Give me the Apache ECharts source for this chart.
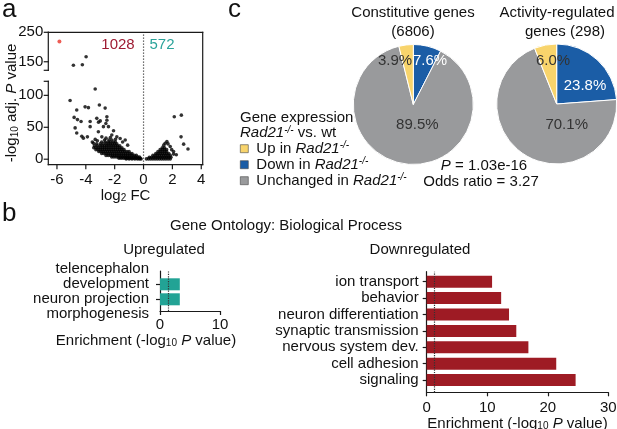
<!DOCTYPE html>
<html><head><meta charset="utf-8">
<script src="https://cdn.jsdelivr.net/npm/echarts@6/dist/echarts.min.js"></script>
<style>html,body{margin:0;padding:0;background:#fff}#c{width:617px;height:429px}</style>
</head><body><div id="c"></div><script>
const FONT = "'Liberation Sans', Arial, Helvetica, sans-serif";

// ---------- Panel a: volcano ----------
const volcanoXRange = [-6.6, 4.1];
const upperYRange = [121, 250];
const lowerYRange = [-8.6, 122];
const xTicks = [-6, -4, -2, 0, 2, 4];
const upperTickValues = [150, 250];
const lowerTickValues = [0, 50, 100];
const nDownGenes = '1028';
const nUpGenes = '572';
const volcanoRed = [[-5.83, 219]];
const volcanoHigh = [[-4.86, 138], [-4.24, 140], [-3.98, 167]];
const downScatter = [
  [-3.35, 110], [-5.09, 92], [-4.63, 77], [-4.05, 82], [-3.82, 80.7], [-3.06, 85], [-2.66, 80],
  [-4.81, 65.5], [-4.58, 62], [-4.74, 49], [-4.63, 41], [-4.28, 36], [-3.89, 35], [-3.7, 51],
  [-3.7, 59], [-3.24, 64], [-3.0, 60], [-2.54, 66.5], [-2.54, 61], [-2.78, 51], [-3.13, 43],
  [-2.89, 35], [-3.35, 31], [-2.2, 38], [-2.08, 44.5], [-1.85, 35], [-1.62, 32.5], [-1.27, 30],
  [-4.33, 59], [-4.17, 33], [-3.47, 25], [-2.43, 51], [-2.61, 56], [-3.12, 58], [-2.3, 34],
  [-1.95, 31], [-1.45, 27], [-2.6, 33], [-3.55, 27], [-1.1, 22], [-3.2, 29]
];
const downRows = [
  [0.3, [-1.2, -1.0, -0.8, -0.6, -0.42, -0.28, -0.17]],
  [1.5, [-1.7, -1.55, -1.4, -1.25, -1.1, -0.95, -0.8, -0.65, -0.5, -0.35, -0.22]],
  [3.5, [-2.2, -2.05, -1.9, -1.75, -1.6, -1.45, -1.3, -1.15, -1.0, -0.85, -0.7, -0.55, -0.4, -0.28]],
  [6, [-2.6, -2.45, -2.3, -2.15, -2.0, -1.85, -1.7, -1.55, -1.4, -1.25, -1.1, -0.95, -0.8, -0.65, -0.5]],
  [9, [-2.9, -2.75, -2.6, -2.45, -2.3, -2.15, -2.0, -1.85, -1.7, -1.55, -1.4, -1.25, -1.1, -0.95, -0.8]],
  [12, [-3.1, -2.95, -2.8, -2.65, -2.5, -2.35, -2.2, -2.05, -1.9, -1.75, -1.6, -1.45, -1.3, -1.15, -1.0]],
  [15, [-3.3, -3.15, -3.0, -2.85, -2.7, -2.55, -2.4, -2.25, -2.1, -1.95, -1.8, -1.65, -1.5, -1.35]],
  [18, [-3.45, -3.3, -3.15, -3.0, -2.85, -2.7, -2.55, -2.4, -2.25, -2.1, -1.95, -1.8, -1.65, -1.5]],
  [21, [-3.4, -3.2, -3.0, -2.85, -2.7, -2.55, -2.4, -2.25, -2.1, -1.95, -1.8, -1.65]],
  [24, [-3.25, -3.0, -2.8, -2.6, -2.45, -2.3, -2.15, -2.0, -1.85]],
  [27, [-2.9, -2.65, -2.45, -2.3, -2.1, -1.95]],
  [30, [-2.7, -2.4, -2.2]]
];
const upScatter = [
  [2.13, 66.5], [2.62, 69], [2.6, 35], [2.78, 23.6], [3.08, 16], [2.27, 7], [1.62, 27.8],
  [1.5, 25], [1.85, 20], [2.08, 12], [2.08, 8], [1.4, 22], [1.7, 24], [1.95, 15]
];
const upRows = [
  [0.5, [0.2, 0.35, 0.5, 0.65, 0.8, 0.95, 1.1, 1.25, 1.4, 1.55, 1.7, 1.85]],
  [3, [0.4, 0.55, 0.7, 0.85, 1.0, 1.15, 1.3, 1.45, 1.6, 1.75, 1.9]],
  [6, [0.65, 0.8, 0.95, 1.1, 1.25, 1.4, 1.55, 1.7, 1.85]],
  [9, [0.85, 1.0, 1.15, 1.3, 1.45, 1.6, 1.75]],
  [12, [1.0, 1.15, 1.3, 1.45, 1.6]],
  [15, [1.15, 1.3, 1.45, 1.6]],
  [18, [1.3, 1.45]]
];

// ---------- Panel c: pies ----------
const pieNames = ['Down', 'Unchanged', 'Up'];
const pieColors = ['#1B5DA6', '#999A9C', '#F8D46C'];
const pieConstitutive = [7.6, 89.5, 3.9];
const pieActivity = [23.8, 70.1, 6.0];
const pieTitles = [['Constitutive genes', '(6806)'], ['Activity-regulated', 'genes (298)']];
const statsText = ['{i|P} = 1.03e-16', 'Odds ratio = 3.27'];

// ---------- Panel b: GO bars ----------
const upTerms = ['telencephalon\ndevelopment', 'neuron projection\nmorphogenesis'];
const upEnrich = [3.3, 3.3];
const downTerms = ['ion transport', 'behavior', 'neuron differentiation', 'synaptic transmission',
  'nervous system dev.', 'cell adhesion', 'signaling'];
const downEnrich = [10.8, 12.3, 13.6, 14.8, 16.8, 21.4, 24.6];
const sigThreshold = 1.3;

const rowsToPoints = rows => rows.flatMap(([y, xs]) => xs.map(x => [x, y]));

const RICH = {
  i: { fontStyle: 'italic', fontSize: 15, fontFamily: FONT, lineHeight: 16 },
  sub: { fontSize: 10, fontFamily: FONT, verticalAlign: 'bottom', lineHeight: 10 },
  sup: { fontSize: 10, fontFamily: FONT, fontStyle: 'italic', verticalAlign: 'top', lineHeight: 8 }
};
const AX = '#1a1a1a';
const axisLine = () => ({ show: true, onZero: false, lineStyle: { color: AX, width: 1.2 } });
const noLine = () => ({ show: false, onZero: false });
const axisTick = () => ({ show: true, length: 4, lineStyle: { color: AX, width: 1.2 } });
const lbl = () => ({ color: '#111', fontSize: 15, fontFamily: FONT });
const off = { show: false };
const dotted = v => ({ silent: true, symbol: 'none', label: { show: false },
  lineStyle: { type: 'dotted', color: '#333', width: 1.2 }, data: [{ xAxis: v }] });

function T(x, y, text, opt) {
  return { type: 'text', x, y, silent: true, z: 100,
    style: Object.assign({ text, fill: '#111', fontSize: 15, fontFamily: FONT,
      align: 'center', verticalAlign: 'middle', textAlign: 'center', textVerticalAlign: 'middle',
      lineHeight: 16, rich: RICH }, opt || {}) };
}
const pieLabelPos = {
  c: [[430, 61.3], [417.3, 125.3], [395, 61.3]],
  a: [[585, 86.3], [566.7, 125.3], [553, 61.3]]
};
const pieLabelColor = ['#fff', '#333', '#333'];
function pieLabels(vals, pos) {
  return vals.map((v, k) => T(pos[k][0], pos[k][1], v.toFixed(1) + '%', { fill: pieLabelColor[k] }));
}
function pieData(vals) {
  return vals.map((v, k) => ({ name: pieNames[k], value: v, itemStyle: { color: pieColors[k] } }));
}
const gridBase = { outerBoundsMode: 'none', containLabel: false };
const G = o => Object.assign(o, gridBase);

const chart = echarts.init(document.getElementById('c'), null, { renderer: 'canvas' });
chart.setOption({
  animation: false,
  grid: [
    G({ left: 48.3, top: 32.3, width: 154.4, height: 38 }),      // 0 volcano upper
    G({ left: 48.3, top: 81.3, width: 154.4, height: 83.4 }),    // 1 volcano lower
    G({ left: 160, top: 271, width: 60, height: 40 }),           // 2 up axes
    G({ left: 426.7, top: 271.7, width: 181.6, height: 120.6 }), // 3 down axes
    G({ left: 160, top: 276.8, width: 60, height: 30 }),         // 4 up bars
    G({ left: 426.7, top: 273.5, width: 181.6, height: 114.8 })  // 5 down bars
  ],
  xAxis: [
    { gridIndex: 0, type: 'value', min: volcanoXRange[0], max: volcanoXRange[1], position: 'top',
      axisLine: noLine(), axisTick: off, axisLabel: off, splitLine: off },
    { gridIndex: 1, type: 'value', min: volcanoXRange[0], max: volcanoXRange[1], position: 'bottom',
      axisLine: noLine(), axisTick: off,
      axisLabel: Object.assign({ customValues: xTicks, margin: 8 }, lbl()),
      splitLine: off,
      name: 'log{sub|2} FC', nameLocation: 'middle', nameGap: 20,
      nameTextStyle: Object.assign({ rich: RICH }, lbl()) },
    { gridIndex: 2, type: 'value', min: 0, max: 10, interval: 10, axisLine: axisLine(), axisTick: axisTick(),
      axisLabel: Object.assign({ margin: 6 }, lbl()), splitLine: off,
      name: 'Enrichment (-log{sub|10} {i|P} value)', nameLocation: 'middle', nameGap: 17,
      nameTextStyle: Object.assign({ rich: RICH, padding: [0, 88, 0, 0] }, lbl()) },
    { gridIndex: 3, type: 'value', min: 0, max: 30, interval: 10, axisLine: axisLine(), axisTick: axisTick(),
      axisLabel: Object.assign({ margin: 8 }, lbl()), splitLine: off,
      name: 'Enrichment (-log{sub|10} {i|P} value)', nameLocation: 'middle', nameGap: 19,
      nameTextStyle: Object.assign({ rich: RICH }, lbl()) },
    { gridIndex: 4, type: 'value', min: 0, max: 10, axisLine: noLine(), axisTick: off, axisLabel: off, splitLine: off },
    { gridIndex: 5, type: 'value', min: 0, max: 30, axisLine: noLine(), axisTick: off, axisLabel: off, splitLine: off }
  ],
  yAxis: [
    { gridIndex: 0, type: 'value', min: upperYRange[0], max: upperYRange[1], axisLine: noLine(),
      axisTick: off, axisLabel: Object.assign({ customValues: upperTickValues, margin: 5 }, lbl()),
      splitLine: off },
    { gridIndex: 1, type: 'value', min: lowerYRange[0], max: lowerYRange[1], axisLine: noLine(),
      axisTick: off, axisLabel: Object.assign({ customValues: lowerTickValues, margin: 5 }, lbl()),
      splitLine: off },
    { gridIndex: 2, type: 'value', min: 0, max: 100, interval: 50, axisLine: axisLine(),
      axisTick: off, axisLabel: off, splitLine: off },
    { gridIndex: 3, type: 'value', min: 0, max: 100, interval: 50, axisLine: axisLine(),
      axisTick: off, axisLabel: off, splitLine: off },
    { gridIndex: 4, type: 'category', inverse: true, data: upTerms, axisLine: noLine(),
      axisTick: Object.assign({ alignWithLabel: true }, axisTick()),
      axisLabel: Object.assign({ interval: 0, margin: 11, lineHeight: 15,
        formatter: (v, i) => i === 0 ? v + '\n ' : ' \n' + v }, lbl()) },
    { gridIndex: 5, type: 'category', inverse: true, data: downTerms, axisLine: noLine(),
      axisTick: Object.assign({ alignWithLabel: true }, axisTick()),
      axisLabel: Object.assign({ interval: 0, margin: 8 }, lbl()) }
  ],
  legend: {
    orient: 'vertical', left: 240, top: 140.7, padding: 0, itemWidth: 8, itemHeight: 8,
    itemGap: 0, icon: 'rect', selectedMode: false, data: ['Up', 'Down', 'Unchanged'],
    itemStyle: { borderColor: '#444', borderWidth: 0.6 },
    formatter: n => n + ' in {i|Rad21}{sup|-/-}',
    textStyle: Object.assign({ lineHeight: 15.5, padding: [0, 0, 0, 3], rich: RICH }, lbl())
  },
  series: [
    { type: 'scatter', xAxisIndex: 0, yAxisIndex: 0, symbolSize: 4, itemStyle: { color: '#E8352B' },
      data: volcanoRed, silent: true, clip: false },
    { type: 'scatter', xAxisIndex: 0, yAxisIndex: 0, symbolSize: 3.6, itemStyle: { color: '#000' },
      data: volcanoHigh, silent: true, clip: false },
    { type: 'scatter', xAxisIndex: 1, yAxisIndex: 1, symbolSize: 3.6, itemStyle: { color: '#000' },
      data: downScatter.concat(rowsToPoints(downRows)), silent: true, clip: false },
    { type: 'scatter', xAxisIndex: 1, yAxisIndex: 1, symbolSize: 3.6, itemStyle: { color: '#000' },
      data: upScatter.concat(rowsToPoints(upRows)), silent: true, clip: false },
    { type: 'scatter', xAxisIndex: 2, yAxisIndex: 2, data: [], silent: true, markLine: dotted(sigThreshold) },
    { type: 'scatter', xAxisIndex: 3, yAxisIndex: 3, data: [], silent: true, markLine: dotted(sigThreshold) },
    { type: 'bar', xAxisIndex: 4, yAxisIndex: 4, data: upEnrich, barWidth: 12,
      itemStyle: { color: '#22A395' }, silent: true },
    { type: 'bar', xAxisIndex: 5, yAxisIndex: 5, data: downEnrich, barWidth: 12,
      itemStyle: { color: '#9E1B24' }, silent: true },
    { type: 'pie', center: [413.3, 104.5], radius: 60, startAngle: 90, clockwise: true,
      silent: true, itemStyle: { borderColor: '#fff', borderWidth: 1 },
      label: { show: false }, labelLine: { show: false }, data: pieData(pieConstitutive) },
    { type: 'pie', center: [556.7, 104], radius: 60, startAngle: 90, clockwise: true,
      silent: true, itemStyle: { borderColor: '#fff', borderWidth: 1 },
      label: { show: false }, labelLine: { show: false }, data: pieData(pieActivity) }
  ]
});

const texts = [
  T(2, 10, 'a', { fontSize: 26, align: 'left', textAlign: 'left' }),
  T(228, 10, 'c', { fontSize: 26, align: 'left', textAlign: 'left' }),
  T(2, 214, 'b', { fontSize: 26, align: 'left', textAlign: 'left' }),
  T(118, 45, nDownGenes, { fill: '#9E1B32' }),
  T(162, 45, nUpGenes, { fill: '#2BA39A' }),
  Object.assign(T(12, 103, '-log{sub|10} adj. {i|P} value'), { rotation: Math.PI / 2 }),
  T(286, 226, 'Gene Ontology: Biological Process'),
  T(164, 250, 'Upregulated'),
  T(420, 250, 'Downregulated'),
  T(413, 13, pieTitles[0][0]), T(413, 32, pieTitles[0][1]),
  T(557, 13, pieTitles[1][0]), T(565, 32, pieTitles[1][1]),
  T(240, 118, 'Gene expression', { align: 'left', textAlign: 'left' }),
  T(240, 133, '{i|Rad21}{sup|-/-} vs. wt', { align: 'left', textAlign: 'left' }),
  T(484, 166, statsText[0]),
  T(481, 181.5, statsText[1])
].concat(pieLabels(pieConstitutive, pieLabelPos.c), pieLabels(pieActivity, pieLabelPos.a));

// Volcano frame, broken y axis and ticks, positioned by the chart's own scales,
// drawn as thin filled bars on a top layer
const P = (ai, x, y) => chart.convertToPixel({ xAxisIndex: ai, yAxisIndex: ai }, [x, y]);
const frame = [];
const W = 1.2;
const R = (a, b) => {
  const x = Math.min(a[0], b[0]), y = Math.min(a[1], b[1]);
  const w = Math.abs(a[0] - b[0]), h = Math.abs(a[1] - b[1]);
  frame.push({ type: 'rect', silent: true, zlevel: 1, z: 1000,
    shape: w < h ? { x: x - W / 2, y: y - W / 2, width: W, height: h + W }
                 : { x: x - W / 2, y: y - W / 2, width: w + W, height: W },
    style: { fill: AX } });
};
const [xMin, xMax] = volcanoXRange;
R(P(0, xMin, upperYRange[0]), P(0, xMin, upperYRange[1]));
R(P(0, xMin, upperYRange[1]), P(0, xMax, upperYRange[1]));
R(P(1, xMax, lowerYRange[0]), P(0, xMax, upperYRange[1]));
R(P(1, xMin, lowerYRange[0]), P(1, xMin, lowerYRange[1]));
R(P(1, xMin, lowerYRange[0]), P(1, xMax, lowerYRange[0]));
[upperYRange[0]].concat(upperTickValues).forEach(v => { const p = P(0, xMin, v); R([p[0] - 4, p[1]], p); });
lowerTickValues.concat([lowerYRange[1]]).forEach(v => { const p = P(1, xMin, v); R([p[0] - 4, p[1]], p); });
xTicks.forEach(v => { const p = P(1, v, lowerYRange[0]); R(p, [p[0], p[1] + 4]); });
const z0 = P(1, 0, lowerYRange[0]), z1 = P(0, 0, upperYRange[1]);
frame.push({ type: 'line', silent: true, zlevel: 1, z: 999,
  shape: { x1: z0[0], y1: z0[1], x2: z1[0], y2: z1[1] },
  style: { stroke: '#444', lineWidth: 1.2, lineDash: [1.2, 1.8] } });

chart.setOption({ graphic: texts.concat(frame) });
</script></body></html>
